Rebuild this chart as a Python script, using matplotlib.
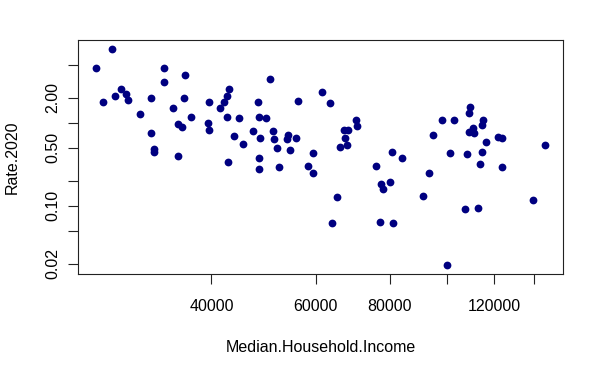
import numpy as np
import matplotlib
matplotlib.use('Agg')
import matplotlib.pyplot as plt

plt.rcParams['font.family'] = ['Liberation Sans', 'DejaVu Sans']

# median household income per county (log scale in the chart)
income = [27200, 25540, 33230, 36060, 33270, 28120, 28710, 27500, 28890, 26250,
          31600, 35960, 34420, 30310, 36910, 35090, 35640, 31600, 31970, 32000,
          35090, 50230, 42780, 61580, 42450, 39630, 41960, 47940, 56000, 41310,
          42500, 44530, 48130, 49460, 39480, 39630, 47020, 50820, 43670, 48260,
          51100, 53810, 53600, 55500, 45300, 51620, 54290, 59460, 48200, 42670,
          48200, 52100, 58230, 59370, 63520, 70170, 70360, 66890, 68070, 67280,
          67810, 65940, 80700, 83900, 75840, 93260, 77330, 80040, 77930, 65170,
          91110, 63920, 77030, 80990, 98090, 94720, 109150, 108860, 102700, 115120,
          114500, 110560, 108860, 111000, 116290, 121700, 123750, 146260, 101190, 108100,
          114460, 113610, 123710, 139600, 107180, 112600, 99900]

rate = [7.85, 4.54, 4.59, 3.78, 3.14, 2.57, 2.21, 2.11, 1.87, 1.76,
        2.00, 2.00, 1.49, 1.28, 1.18, 0.973, 0.903, 0.758, 0.490, 0.443,
        0.401, 3.39, 2.54, 2.36, 2.09, 1.79, 1.76, 1.79, 1.84, 1.49,
        1.18, 1.16, 1.18, 1.15, 0.989, 0.824, 0.801, 0.801, 0.703, 0.653,
        0.642, 0.717, 0.642, 0.665, 0.548, 0.500, 0.468, 0.430, 0.379, 0.333,
        0.279, 0.295, 0.298, 0.245, 1.72, 1.07, 0.928, 0.824, 0.824, 0.656,
        0.545, 0.518, 0.451, 0.379, 0.300, 0.250, 0.184, 0.194, 0.158, 0.127,
        0.132, 0.0625, 0.063, 0.0625, 1.08, 0.723, 1.56, 1.32, 1.09, 1.07,
        0.941, 0.866, 0.779, 0.747, 0.591, 0.684, 0.653, 0.537, 0.435, 0.425,
        0.449, 0.315, 0.292, 0.117, 0.0924, 0.093, 0.0191]

xticks = [40000, 60000, 80000, 100000, 120000, 140000]
xlabels = ['40000', '60000', '80000', '', '120000', '']
yticks = [0.02, 0.05, 0.1, 0.2, 0.5, 1, 2, 5]
ylabels = ['0.02', '', '0.10', '', '0.50', '', '2.00', '']

def r_lims(v):
    # R pads log axes by 4% of the range on each side
    lo, hi = np.log10(min(v)), np.log10(max(v))
    d = (hi - lo) * 0.04
    return 10 ** (lo - d), 10 ** (hi + d)

fig = plt.figure(figsize=(6.04, 3.73), dpi=100)
ax = fig.add_axes([78/604, 1 - 274/373, (563 - 78)/604, (274 - 40)/373])

ax.plot(income, rate, 'o', color='navy', markersize=5.6, markeredgewidth=0)
ax.set_xscale('log')
ax.set_yscale('log')
ax.set_xlim(*r_lims(income))
ax.set_ylim(*r_lims(rate))

ax.xaxis.set_minor_locator(matplotlib.ticker.NullLocator())
ax.yaxis.set_minor_locator(matplotlib.ticker.NullLocator())
ax.set_xticks(xticks)
ax.set_xticklabels(xlabels)
ax.set_yticks(yticks)
ax.set_yticklabels(ylabels, rotation=90, va='center')

ax.tick_params(direction='out', length=7, width=0.8, labelsize=11.5, color='#222222')
ax.tick_params(axis='x', pad=11)
ax.tick_params(axis='y', pad=6)
for s in ax.spines.values():
    s.set_color('#222222')
    s.set_linewidth(0.8)

ax.set_xlabel('Median.Household.Income', fontsize=11.5, labelpad=19)
ax.set_ylabel('Rate.2020', fontsize=11.5, labelpad=18)

fig.savefig('out.png', dpi=100)
